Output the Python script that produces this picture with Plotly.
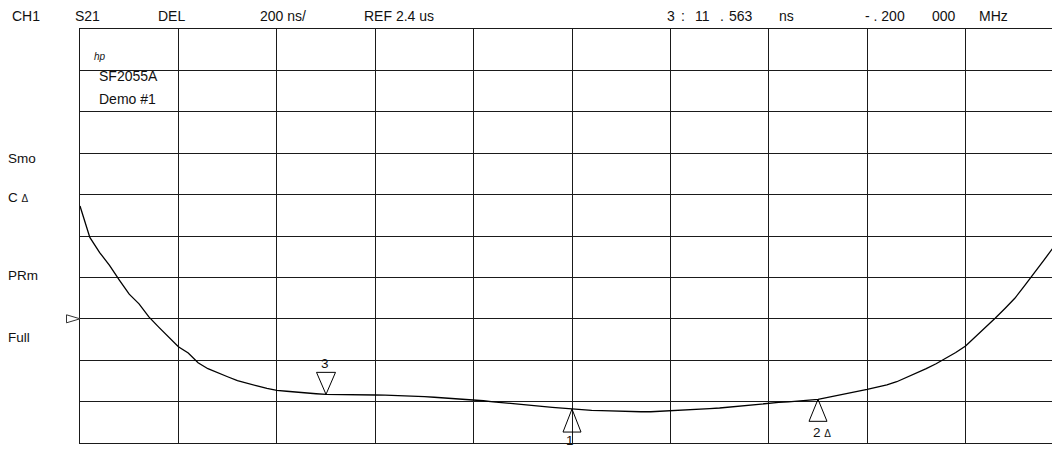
import plotly.graph_objects as go

# ---- data ----
# stimulus position in graticule divisions (0..10), delay in ns
freq_div = [round(0.1 * i, 1) for i in range(101)]
delay_ns = [
    2945, 2793, 2720, 2658, 2587, 2519, 2472, 2409, 2360, 2313,
    2265, 2235, 2188, 2159, 2138, 2120, 2101, 2087, 2076, 2064,
    2054, 2050, 2045, 2041, 2038, 2035, 2035, 2033, 2034, 2032,
    2032, 2031, 2030, 2029, 2027, 2024, 2021, 2018, 2014, 2011,
    2008, 2004, 1999, 1994, 1989, 1984, 1980, 1976, 1972, 1968,
    1964, 1961, 1958, 1956, 1954, 1953, 1952, 1951, 1951, 1953,
    1956, 1958, 1961, 1964, 1966, 1969, 1974, 1978, 1983, 1988,
    1992, 1996, 1999, 2003, 2007, 2011, 2020, 2029, 2039, 2049,
    2059, 2070, 2081, 2096, 2116, 2136, 2159, 2183, 2208, 2237,
    2269, 2313, 2359, 2403, 2450, 2499, 2560, 2621, 2686, 2750,
    2815,
]
marker_ids = ["1", "2", "3"]
marker_x = [5.0, 7.5, 2.5]
ref_value_ns = 2400
scale_ns_per_div = 200
ref_position_div = 3

header_texts = ["CH1", "S21", "DEL", "200 ns/", "REF 2.4 us",
                "3", ":", "11", ".", "563", "ns", "- . 200", "000", "MHz"]
side_texts = ["Smo", "C Δ", "PRm", "Full"]

# ---- layout geometry (page pixels; the page body adds an 8 px offset) ----
OFF = 8
W, H = 1060 - OFF, 449 - OFF
L, T = 80 - OFF, 29 - OFF
R = 0
PH = 414
B = H - T - PH
PW = W - L - R
DIV_PX = 98.4
x_range = [0, PW / DIV_PX]
y_lo = ref_value_ns - ref_position_div * scale_ns_per_div
y_hi = y_lo + 10 * scale_ns_per_div

def pxx(x):  # page x -> paper fraction
    return (x - OFF - L) / PW

def pxy(y):  # page y -> paper fraction
    return (T + PH - (y - OFF)) / PH

FONT = "Liberation Sans, Arial, sans-serif"
INK = "#111111"
FS = 13.5

fig = go.Figure()
fig.add_trace(go.Scatter(
    x=freq_div, y=delay_ns, mode="lines",
    line=dict(color="#000000", width=1.3), hoverinfo="skip", showlegend=False,
))

annotations = []

def txt(s, x, y, size=FS, anchor="left"):
    annotations.append(dict(
        text=s, x=pxx(x), y=pxy(y), xref="paper", yref="paper",
        xanchor=anchor, yanchor="middle", showarrow=False,
        font=dict(family=FONT, size=size, color=INK)))

header_x = [10, 73, 156, 258, 362, 665, 679, 693, 718, 727, 777, 863, 930, 977]
for s, x in zip(header_texts, header_x):
    txt(s, x, 16, size=14)

side_y = [158, 197, 275, 337]
for s, y in zip(side_texts, side_y):
    if "Δ" in s:
        txt("C <span style='font-size:10px'>Δ</span>", 6, y)
    else:
        txt(s, 6, y)

txt("<i>hp</i>", 92, 57, size=10)
txt("SF2055A", 97, 76, size=14)
txt("Demo #1", 97, 99, size=14)

shapes = []
# reference position arrow on the left edge
shapes.append(dict(
    type="path", xref="paper", yref="y", xsizemode="pixel", ysizemode="pixel",
    xanchor=0, yanchor=ref_value_ns,
    path="M-13.5,4 L0,0 L-13.5,-4 Z",
    line=dict(color="#333333", width=1), fillcolor="white", layer="above"))

marker_style = {
    "1": dict(path="M0,0 L-9,-23 L9,-23 Z", label="1", yshift=-31, xshift=-2),
    "2": dict(path="M0,0 L-9,-22 L9,-22 Z",
              label="2 <span style='font-size:10px'>Δ</span>", yshift=-33, xshift=4),
    "3": dict(path="M0,0 L-9.5,22 L9.5,22 Z", label="3", yshift=31, xshift=-1),
}
for mid, mx in zip(marker_ids, marker_x):
    my = delay_ns[freq_div.index(mx)]
    st = marker_style[mid]
    shapes.append(dict(
        type="path", xref="x", yref="y", xsizemode="pixel", ysizemode="pixel",
        xanchor=mx, yanchor=my, path=st["path"],
        line=dict(color="#000000", width=1), fillcolor="rgba(0,0,0,0)", layer="above"))
    annotations.append(dict(
        text=st["label"], x=mx, y=my, xref="x", yref="y",
        xshift=st["xshift"], yshift=st["yshift"], showarrow=False,
        xanchor="center", yanchor="middle",
        font=dict(family=FONT, size=FS, color=INK)))

fig.update_layout(
    width=W, height=H,
    margin=dict(l=L, r=R, t=T, b=B, pad=0),
    paper_bgcolor="white", plot_bgcolor="white",
    showlegend=False,
    xaxis=dict(range=x_range, dtick=1, tick0=0, showgrid=True,
               gridcolor="#1a1a1a", gridwidth=1, zeroline=False,
               showline=True, linecolor="#1a1a1a", linewidth=1, mirror=True,
               showticklabels=False, ticks="", fixedrange=True),
    yaxis=dict(range=[y_lo, y_hi], dtick=scale_ns_per_div, tick0=y_lo, showgrid=True,
               gridcolor="#1a1a1a", gridwidth=1, zeroline=False,
               showline=True, linecolor="#1a1a1a", linewidth=1, mirror=False,
               showticklabels=False, ticks="", fixedrange=True),
    annotations=annotations,
    shapes=shapes,
)

fig.write_html("out.html")
